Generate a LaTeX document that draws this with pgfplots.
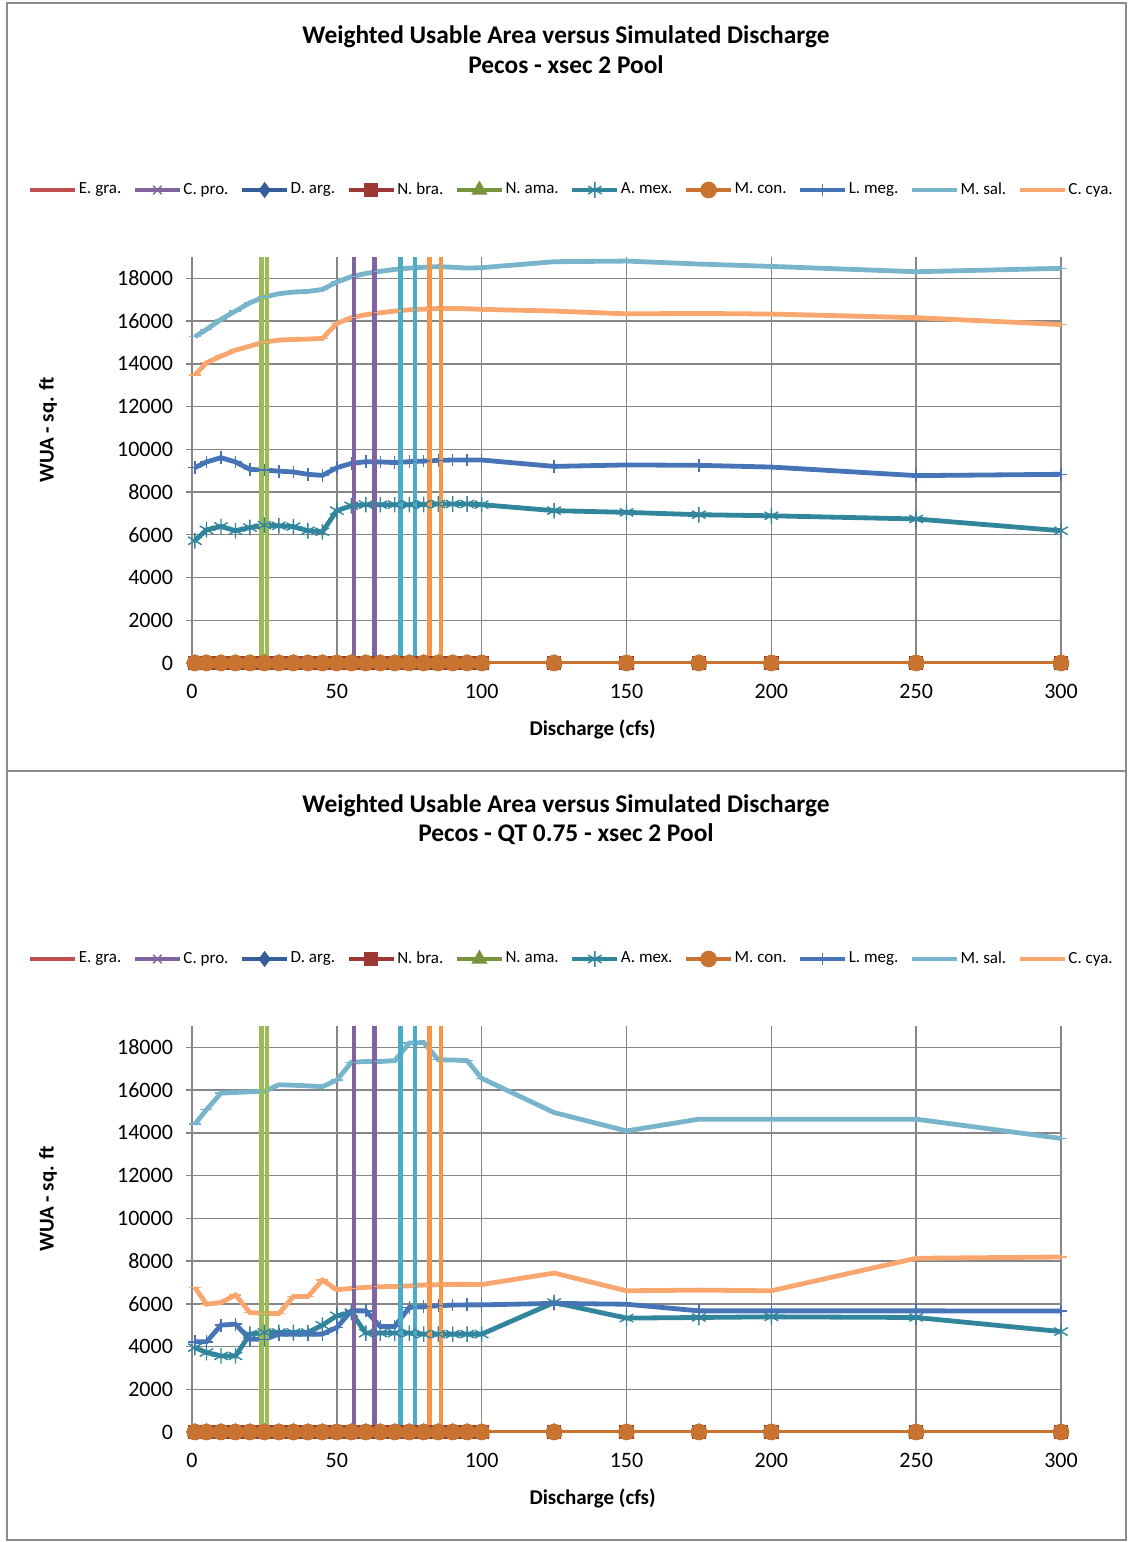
\documentclass[border=0pt]{standalone}
\usepackage{pgfplots}
\pgfplotsset{compat=1.18}
\usepackage{pgfplotstable}
\usepackage{fontspec}
\setmainfont{Carlito}

\definecolor{egra}{HTML}{C0504D}
\definecolor{cpro}{HTML}{8064A2}
\definecolor{darg}{HTML}{365F99}
\definecolor{nbra}{HTML}{9E3835}
\definecolor{nama}{HTML}{77933C}
\definecolor{amex}{HTML}{31859C}
\definecolor{mcon}{HTML}{C8732F}
\definecolor{lmeg}{HTML}{4674B6}
\definecolor{msal}{HTML}{78B5CD}
\definecolor{ccya}{HTML}{F9A66F}
\definecolor{vgreen}{HTML}{9BBB59}
\definecolor{vpurple}{HTML}{8064A2}
\definecolor{vcyan}{HTML}{4BACC6}
\definecolor{vorange}{HTML}{F79646}
\definecolor{gridgray}{HTML}{868686}
\definecolor{framegray}{HTML}{8C8C8C}

\pgfplotstableread{
x z amex lmeg msal ccya
1 0 5720 9140 15270 13480
5 0 6230 9410 15610 14050
10 0 6390 9610 16080 14360
15 0 6190 9410 16470 14640
20 0 6340 9060 16860 14830
25 0 6450 9030 17130 15020
30 0 6420 8980 17280 15110
35 0 6380 8940 17360 15140
40 0 6190 8830 17390 15160
45 0 6140 8780 17480 15190
50 0 7130 9140 17830 15890
55 0 7360 9340 18080 16160
60 0 7410 9420 18230 16300
65 0 7410 9410 18330 16390
70 0 7410 9380 18420 16470
75 0 7410 9420 18480 16530
80 0 7420 9450 18520 16560
85 0 7440 9480 18550 16590
90 0 7440 9500 18520 16590
95 0 7440 9500 18480 16580
100 0 7410 9500 18500 16550
125 0 7130 9200 18780 16470
150 0 7050 9270 18810 16340
175 0 6940 9250 18670 16360
200 0 6890 9170 18560 16330
250 0 6740 8770 18310 16160
300 0 6190 8830 18470 15840
}\topdata

\pgfplotstableread{
x z amex lmeg msal ccya
1 0 3950 4220 14410 6770
5 0 3720 4220 15080 5980
10 0 3560 5000 15860 6060
15 0 3560 5050 15890 6410
20 0 4580 4340 15920 5590
25 0 4660 4340 15940 5550
30 0 4660 4580 16250 5550
35 0 4660 4580 16230 6340
40 0 4660 4580 16200 6340
45 0 5000 4580 16160 7110
50 0 5440 4890 16470 6660
55 0 5590 5670 17300 6720
60 0 4630 5670 17340 6770
65 0 4630 4940 17340 6800
70 0 4630 4940 17380 6810
75 0 4630 5830 18200 6840
80 0 4580 5860 18230 6880
85 0 4580 5910 17420 6890
90 0 4580 5940 17410 6910
95 0 4580 5950 17380 6910
100 0 4580 5950 16550 6900
125 0 6060 6020 14950 7440
150 0 5330 5980 14090 6610
175 0 5360 5670 14640 6640
200 0 5390 5670 14640 6610
250 0 5360 5670 14640 8130
300 0 4700 5660 13740 8190
}\botdata

\pgfplotsset{
  wua/.style={
    scale only axis, width=434.5pt, height=203pt,
    xmin=0, xmax=300, ymin=0, ymax=19000,
    xtick={0,50,...,300}, ytick={0,2000,...,18000},
    grid=major, grid style={color=gridgray, line width=0.7pt},
    axis lines*=left, axis line style={-, color=gridgray, line width=0.7pt},
    tick pos=left, tick align=outside, major tick length=3pt,
    tick style={color=gridgray, line width=0.7pt},
    ticklabel style={font=\fontsize{11}{13}\selectfont},
    xticklabel style={yshift=-4pt},
    yticklabel style={xshift=-3pt},
    /pgf/number format/assume math mode=true, /pgf/number format/1000 sep={},
    scaled y ticks=false,
    xlabel={Discharge (cfs)}, ylabel={WUA - sq. ft},
    label style={font=\fontsize{10.5}{12}\selectfont\bfseries},
    xlabel style={at={(axis description cs:0.461,-0.1626)}, anchor=center},
    ylabel style={at={(axis description cs:-0.1657,0.574)}, anchor=center},
    legend columns=10,
    legend style={at={(axis description cs:0.436,1.165)}, anchor=center, draw=none, fill=none,
      font=\fontsize{8.5}{10}\selectfont, inner sep=0pt,
      nodes={inner sep=0.6pt},
      /tikz/every even column/.append style={column sep=5pt}},
    legend cell align=left,
    legend image code/.code={\draw[mark repeat=2,mark phase=2,#1] plot coordinates {(0pt,0pt)(11.25pt,0pt)(22.5pt,0pt)};},
  },
  ser/.style={line width=2.4pt, mark options={line width=0.7pt, solid}},
  vl/.style={line width=2.1pt, forget plot},
}

\newcommand\allseries[1]{%
  \addplot[ser, color=egra, no marks] table[x=x,y=z]{#1};
  \addlegendentry{E. gra.}
  \addplot[ser, color=cpro, mark=x, mark size=3pt] table[x=x,y=z]{#1};
  \addlegendentry{C. pro.}
  \addplot[ser, color=darg, mark=diamond*, mark size=3.5pt] table[x=x,y=z]{#1};
  \addlegendentry{D. arg.}
  \addplot[ser, color=nbra, mark=square*, mark size=3.3pt] table[x=x,y=z]{#1};
  \addlegendentry{N. bra.}
  \addplot[ser, color=nama, mark=triangle*, mark size=4pt] table[x=x,y=z]{#1};
  \addlegendentry{N. ama.}
  \addplot[ser, color=amex, mark=asterisk, mark size=3.9pt] table[x=x,y=amex]{#1};
  \addlegendentry{A. mex.}
  \addplot[ser, color=mcon, mark=*, mark size=3.8pt] table[x=x,y=z]{#1};
  \addlegendentry{M. con.}
  \addplot[ser, color=lmeg, mark=+, mark size=3.2pt] table[x=x,y=lmeg]{#1};
  \addlegendentry{L. meg.}
  \addplot[ser, color=msal, mark=-, mark size=3pt] table[x=x,y=msal]{#1};
  \addlegendentry{M. sal.}
  \addplot[ser, color=ccya, mark=-, mark size=3pt] table[x=x,y=ccya]{#1};
  \addlegendentry{C. cya.}
  \addplot[vl, color=vgreen] coordinates {(24,0) (24,25000)};
  \addplot[vl, color=vgreen] coordinates {(26,0) (26,25000)};
  \addplot[vl, color=vpurple] coordinates {(56,0) (56,25000)};
  \addplot[vl, color=vpurple] coordinates {(63,0) (63,25000)};
  \addplot[vl, color=vcyan] coordinates {(72,0) (72,25000)};
  \addplot[vl, color=vcyan] coordinates {(77,0) (77,25000)};
  \addplot[vl, color=vorange] coordinates {(82,0) (82,25000)};
  \addplot[vl, color=vorange] coordinates {(86,0) (86,25000)};
}

\begin{document}
\begin{tikzpicture}
\path (0,0) rectangle (564pt,-771pt);
\draw[framegray, line width=0.6pt] (3.5pt,-1.5pt) rectangle (563pt,-385.5pt);
\draw[framegray, line width=0.6pt] (3.5pt,-385.5pt) rectangle (563pt,-770pt);
\node[font=\fontsize{12.7}{15}\selectfont\bfseries] at (283pt,-18.5pt) {Weighted Usable Area versus Simulated Discharge};
\node[font=\fontsize{12.7}{15}\selectfont\bfseries] at (283pt,-32.5pt) {Pecos - xsec 2 Pool};
\node[font=\fontsize{12.7}{15}\selectfont\bfseries] at (283pt,-403pt) {Weighted Usable Area versus Simulated Discharge};
\node[font=\fontsize{12.7}{15}\selectfont\bfseries] at (283pt,-417pt) {Pecos - QT 0.75 - xsec 2 Pool};

\begin{axis}[wua, at={(96pt,-331.5pt)}, anchor=south west]
\allseries{\topdata}
\end{axis}

\begin{axis}[wua, at={(96pt,-716pt)}, anchor=south west]
\allseries{\botdata}
\end{axis}
\end{tikzpicture}
\end{document}
